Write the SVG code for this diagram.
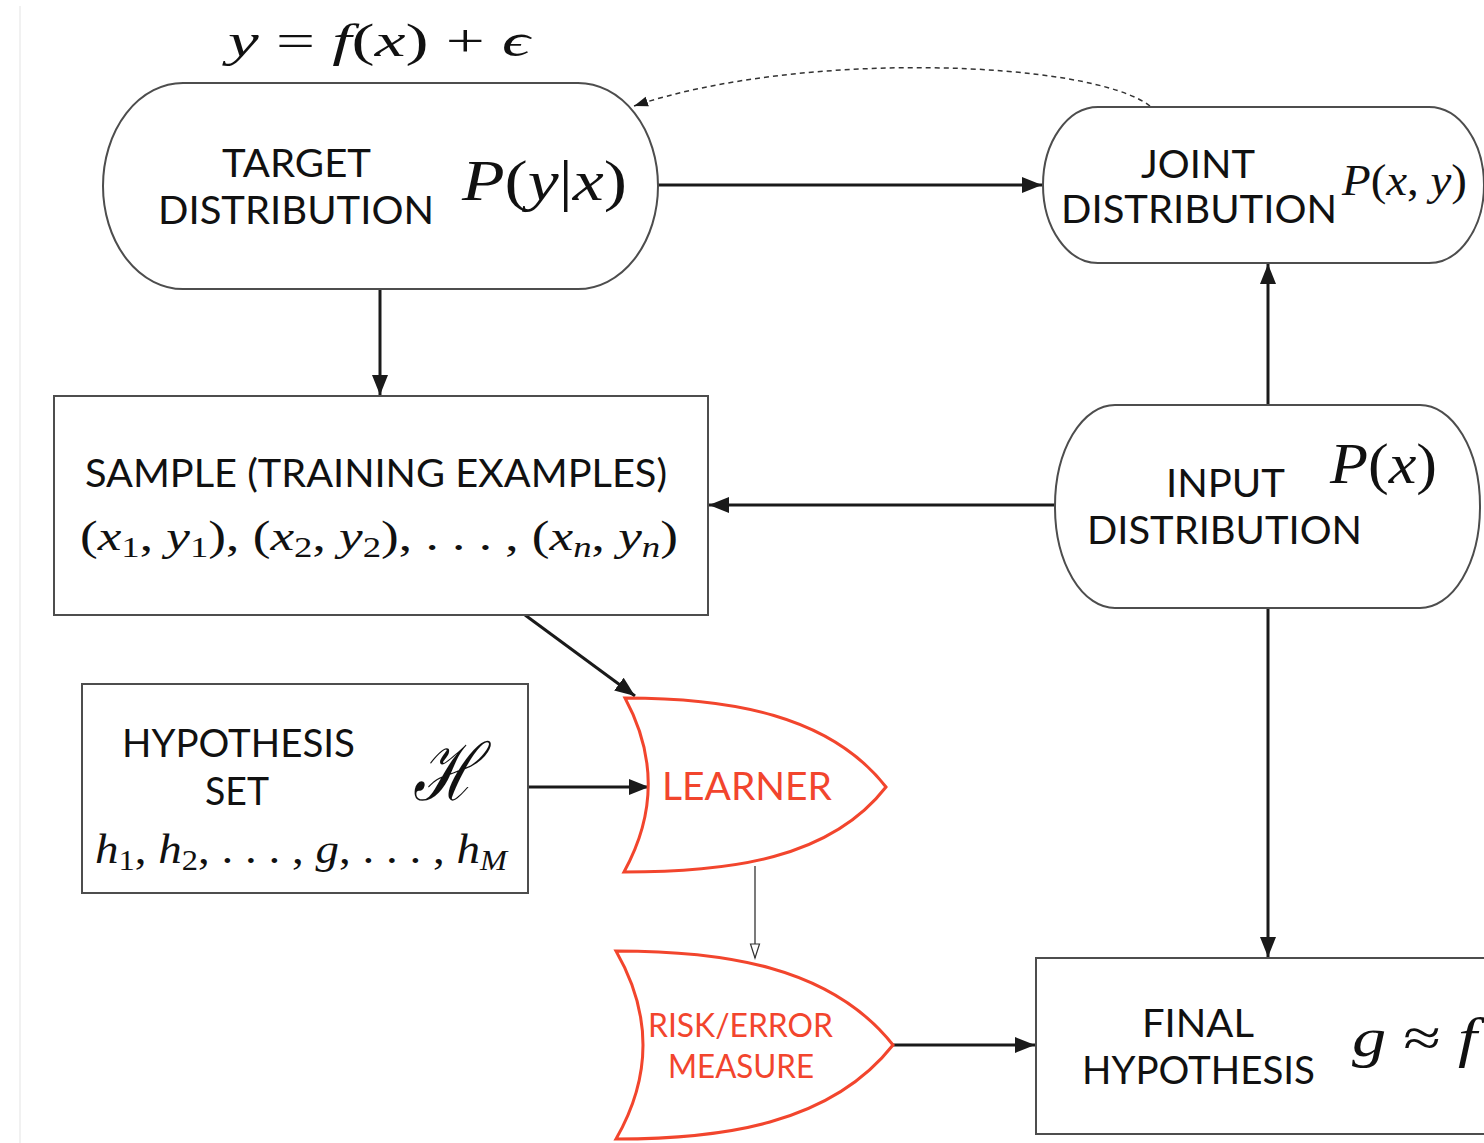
<svg xmlns="http://www.w3.org/2000/svg" width="1484" height="1143" viewBox="0 0 1484 1143">
<defs>
<marker id="ah" markerUnits="userSpaceOnUse" markerWidth="22" markerHeight="16" refX="20" refY="8" orient="auto"><path d="M0,0 L20,8 L0,16 Z" fill="#1a1a1a"/></marker>
<marker id="ahs" markerUnits="userSpaceOnUse" markerWidth="16" markerHeight="12" refX="14" refY="6" orient="auto"><path d="M0,1 L14,6 L0,11 Z" fill="#1a1a1a"/></marker>
<marker id="open" markerUnits="userSpaceOnUse" markerWidth="18" markerHeight="12" refX="15" refY="6" orient="auto"><path d="M1,1.5 L15,6 L1,10.5 Z" fill="#fff" stroke="#333" stroke-width="1.2"/></marker>
</defs>
<style>
.nd{fill:#fff;stroke:#4d4d4d;stroke-width:2}
.rd{fill:#fff;stroke:#f2452d;stroke-width:3}
.lb{font-family:Lato,'Open Sans',sans-serif;font-size:38px;fill:#111}
.rl{fill:#f2452d}
.sm{font-size:32px}
.m{font-family:'Liberation Serif',serif;fill:#111}
.i{font-style:italic}
.cn{fill:none;stroke:#1a1a1a;stroke-width:3}
</style>
<rect width="1484" height="1143" fill="#fff"/>
<line x1="20" y1="6" x2="20" y2="1143" stroke="#ececec" stroke-width="1.5"/>

<g id="connectors">
<path class="cn" d="M658,185 L1042,185" marker-end="url(#ah)"/>
<path class="cn" d="M380,289 L380,395" marker-end="url(#ah)"/>
<path class="cn" d="M1268,405 L1268,264" marker-end="url(#ah)"/>
<path class="cn" d="M1055,505 L709,505" marker-end="url(#ah)"/>
<path class="cn" d="M525,615 L635,696" marker-end="url(#ah)"/>
<path class="cn" d="M528,787 L649,787" marker-end="url(#ah)"/>
<path fill="none" stroke="#333" stroke-width="1.3" d="M755,866 L755,958" marker-end="url(#open)"/>
<path class="cn" d="M1268,608 L1268,957" marker-end="url(#ah)"/>
<path class="cn" d="M893,1045 L1035,1045" marker-end="url(#ah)"/>
<path fill="none" stroke="#333" stroke-width="1.5" stroke-dasharray="5,4" d="M1150,106 C1090,60 800,50 634,106" marker-end="url(#ahs)"/>
</g>

<text class="m" x="228" y="56" font-size="46" textLength="302" lengthAdjust="spacingAndGlyphs"><tspan class="i">y</tspan> = <tspan class="i">f</tspan>(<tspan class="i">x</tspan>) + <tspan class="i">ϵ</tspan></text>

<g id="target">
<rect class="nd" x="103" y="83" width="555" height="206" rx="80" ry="103"/>
<text class="lb" x="222" y="177" textLength="149" lengthAdjust="spacingAndGlyphs">TARGET</text>
<text class="lb" x="158" y="224" textLength="276" lengthAdjust="spacingAndGlyphs">DISTRIBUTION</text>
<text class="m" x="462" y="200" font-size="56" textLength="165" lengthAdjust="spacingAndGlyphs"><tspan class="i">P</tspan>(<tspan class="i">y</tspan>|<tspan class="i">x</tspan>)</text>
</g>

<g id="joint">
<rect class="nd" x="1043" y="107" width="441" height="156" rx="55" ry="78"/>
<text class="lb" x="1141" y="178" textLength="114" lengthAdjust="spacingAndGlyphs">JOINT</text>
<text class="lb" x="1061" y="223" textLength="276" lengthAdjust="spacingAndGlyphs">DISTRIBUTION</text>
<text class="m" x="1342" y="195" font-size="44" textLength="125" lengthAdjust="spacingAndGlyphs"><tspan class="i">P</tspan>(<tspan class="i">x</tspan>, <tspan class="i">y</tspan>)</text>
</g>

<g id="sample">
<rect class="nd" x="54" y="396" width="654" height="219"/>
<text class="lb" x="85" y="487" textLength="582" lengthAdjust="spacingAndGlyphs">SAMPLE (TRAINING EXAMPLES)</text>
<text class="m" x="80" y="550" font-size="42" textLength="598" lengthAdjust="spacingAndGlyphs">(<tspan class="i">x</tspan><tspan font-size="29" dy="7">1</tspan><tspan dy="-7">, </tspan><tspan class="i">y</tspan><tspan font-size="29" dy="7">1</tspan><tspan dy="-7">), (</tspan><tspan class="i">x</tspan><tspan font-size="29" dy="7">2</tspan><tspan dy="-7">, </tspan><tspan class="i">y</tspan><tspan font-size="29" dy="7">2</tspan><tspan dy="-7">), . . . , (</tspan><tspan class="i">x</tspan><tspan font-size="29" dy="7" class="i">n</tspan><tspan dy="-7">, </tspan><tspan class="i">y</tspan><tspan font-size="29" dy="7" class="i">n</tspan><tspan dy="-7">)</tspan></text>
</g>

<g id="input">
<rect class="nd" x="1055" y="405" width="425" height="203" rx="60" ry="101"/>
<text class="lb" x="1166" y="497" textLength="119" lengthAdjust="spacingAndGlyphs">INPUT</text>
<text class="lb" x="1087" y="544" textLength="275" lengthAdjust="spacingAndGlyphs">DISTRIBUTION</text>
<text class="m" x="1330" y="483" font-size="56" textLength="107" lengthAdjust="spacingAndGlyphs"><tspan class="i">P</tspan>(<tspan class="i">x</tspan>)</text>
</g>

<g id="hypothesis">
<rect class="nd" x="82" y="684" width="446" height="209"/>
<text class="lb" x="122" y="757" textLength="233" lengthAdjust="spacingAndGlyphs">HYPOTHESIS</text>
<text class="lb" x="205" y="805" textLength="64" lengthAdjust="spacingAndGlyphs">SET</text>
<text x="413" y="800" font-family="'DejaVu Serif',serif" font-style="italic" font-size="80" fill="#111" textLength="66" lengthAdjust="spacingAndGlyphs">ℋ</text>
<text class="m" x="95" y="863" font-size="42" textLength="412" lengthAdjust="spacingAndGlyphs"><tspan class="i">h</tspan><tspan font-size="29" dy="7">1</tspan><tspan dy="-7">, </tspan><tspan class="i">h</tspan><tspan font-size="29" dy="7">2</tspan><tspan dy="-7">, . . . , </tspan><tspan class="i">g</tspan>, . . . , <tspan class="i">h</tspan><tspan font-size="29" dy="7" class="i">M</tspan></text>
</g>

<g id="learner">
<path class="rd" d="M625,698 C730,698 830,715 886,787 C830,859 730,872 624,872 Q672,785 625,698 Z"/>
<text class="lb rl" x="662" y="800" textLength="170" lengthAdjust="spacingAndGlyphs">LEARNER</text>
</g>

<g id="risk">
<path class="rd" d="M616,951 C720,951 830,965 893,1045 C830,1125 720,1139 616,1139 Q670,1045 616,951 Z"/>
<text class="lb rl sm" x="648" y="1037" textLength="185" lengthAdjust="spacingAndGlyphs">RISK/ERROR</text>
<text class="lb rl sm" x="668" y="1078" textLength="146" lengthAdjust="spacingAndGlyphs">MEASURE</text>
</g>

<g id="final">
<rect class="nd" x="1036" y="958" width="460" height="176"/>
<text class="lb" x="1142" y="1037" textLength="112" lengthAdjust="spacingAndGlyphs">FINAL</text>
<text class="lb" x="1082" y="1084" textLength="233" lengthAdjust="spacingAndGlyphs">HYPOTHESIS</text>
<text class="m" x="1352" y="1056" font-size="54" textLength="125" lengthAdjust="spacingAndGlyphs"><tspan class="i">g</tspan> ≈ <tspan class="i">f</tspan></text>
</g>
</svg>
